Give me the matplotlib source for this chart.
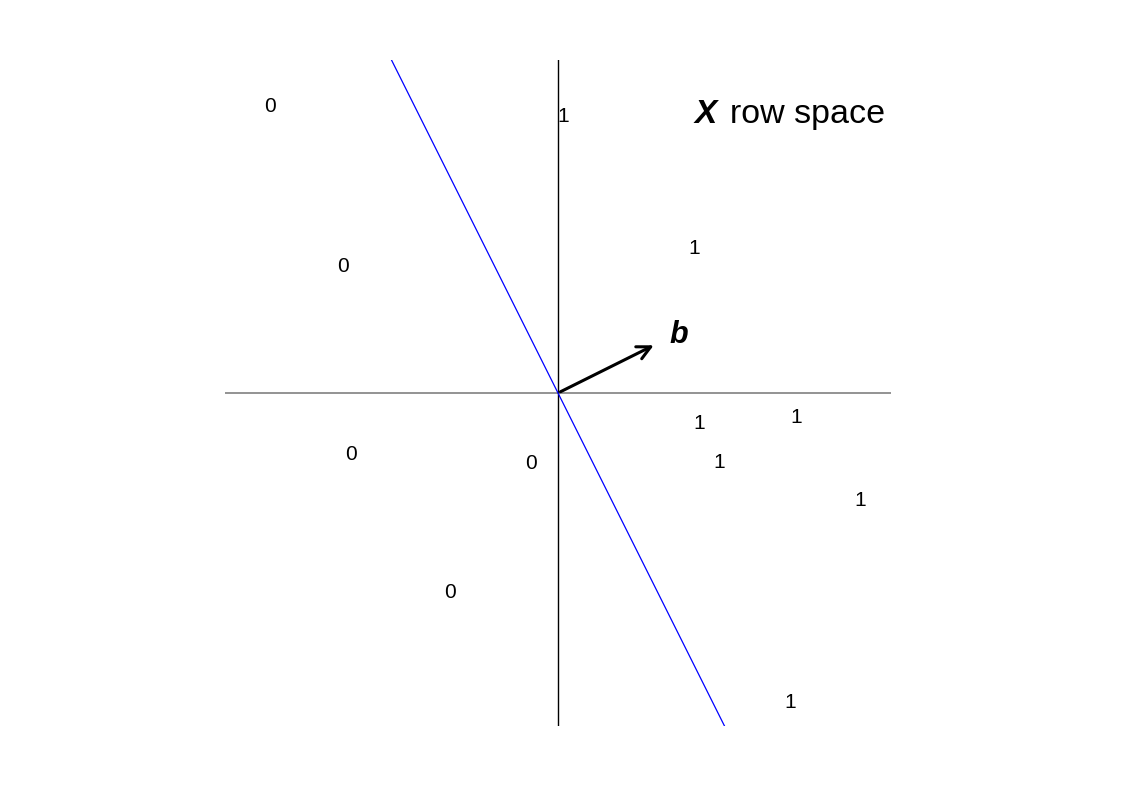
import matplotlib.pyplot as plt

plt.rcParams['font.family'] = ['Liberation Sans', 'DejaVu Sans']

# class 0 points (label positions in data coords)
zeros_x = [-0.865, -0.646, -0.622, -0.081, -0.324]
zeros_y = [0.860, 0.380, -0.184, -0.211, -0.599]

# class 1 points
ones_x = [0.015, 0.408, 0.423, 0.715, 0.483, 0.907, 0.697]
ones_y = [0.831, 0.434, -0.091, -0.073, -0.208, -0.322, -0.929]

# decision boundary y = -2x and normal vector b
boundary_x = [-0.5, 0.5]
boundary_y = [1.0, -1.0]
b_vec = [0.295, 0.147]

fig = plt.figure(figsize=(11.29, 7.99), dpi=100)
ax = fig.add_axes([225 / 1129, 73 / 799, 666 / 1129, 666 / 799])
ax.set_xlim(-1, 1)
ax.set_ylim(-1, 1)
ax.axis('off')

ax.plot([-1, 1], [0, 0], color='#808080', lw=1.2)
ax.plot([0, 0], [-1, 1], color='black', lw=1.0)
ax.plot(boundary_x, boundary_y, color='blue', lw=0.9)

ax.annotate('', xy=(b_vec[0], b_vec[1]), xytext=(0, 0),
            arrowprops=dict(arrowstyle='->', color='black', lw=2.2, mutation_scale=24))
ax.text(b_vec[0] + 0.068, b_vec[1] + 0.028, 'b', fontsize=22, fontweight='bold',
        style='italic', ha='center', va='center')

for x, y in zip(zeros_x, zeros_y):
    ax.text(x, y, '0', fontsize=15, ha='center', va='center')
for x, y in zip(ones_x, ones_y):
    ax.text(x, y, '1', fontsize=15, ha='center', va='center')

ax.text(0.41, 0.836, 'X', fontsize=24, fontweight='bold', style='italic',
        ha='left', va='center')
ax.text(0.982, 0.836, 'row space', fontsize=24.5, ha='right', va='center')

fig.savefig('out.png', dpi=100)
